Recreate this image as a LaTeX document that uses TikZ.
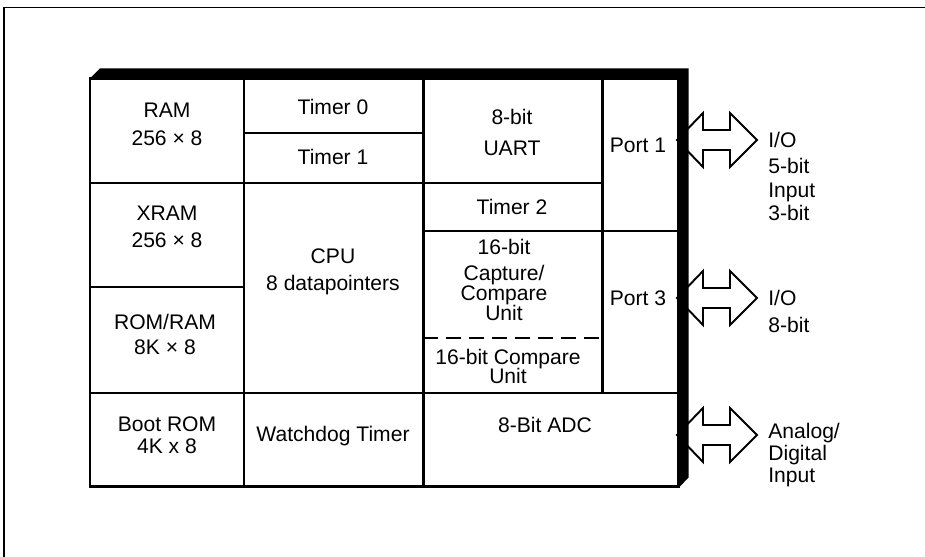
\documentclass[tikz,border=0pt]{standalone}
\usepackage{fontspec}
\setmainfont{Liberation Sans}
\begin{document}
\begin{tikzpicture}[x=0.02cm,y=-0.02cm,line join=miter,
                    font=\fontsize{12}{14}\selectfont,
                    cell/.style={align=center,inner sep=0pt},
                    pinlabel/.style={align=left,anchor=west,inner sep=0pt},
                    gridline/.style={line width=1.7pt},
                    busarrow/.style={draw,fill=white,line width=1.1pt}]
  \useasboundingbox (0,0) rectangle (925,557);

  % Page frame, open at right and bottom.
  \draw[line width=0.6pt] (4,557) -- (4,7.3) -- (925,7.3);

  % Outline bus arrows, drawn before the shadow band.
  \foreach \yc in {140,298,435}
    \draw[busarrow] (677,\yc) -- (703,\yc-27) -- (703,\yc-10)
      -- (730,\yc-10) -- (730,\yc-27) -- (757,\yc) -- (730,\yc+27)
      -- (730,\yc+10) -- (703,\yc+10) -- (703,\yc+27) -- cycle;

  % Shadow band on top and right of the block.
  \fill (89,79.5) -- (100,68.5) -- (688.5,68.5) -- (688.5,477.5)
    -- (678.5,488) -- (678.5,78.5) -- cycle;

  % Block outline and cell borders.
  \draw[gridline] (90,78.5) rectangle (678.5,486.5);
  \draw[gridline] (244,78.5) -- (244,486.5);
  \draw[gridline] (423,78.5) -- (423,486.5);
  \draw[gridline] (602,78.5) -- (602,393);
  \draw[gridline] (244,133) -- (423,133);
  \draw[gridline] (90,183) -- (602,183);
  \draw[gridline] (423,231) -- (678.5,231);
  \draw[gridline] (90,287) -- (244,287);
  \draw[gridline] (90,393) -- (678.5,393);
  \draw[line width=1.7pt,dash pattern=on 0.3cm off 0.16cm]
    (423,338) -- (602,338);

  % Cell texts.
  \node[cell] (ram) at (167,124) {RAM\\[1.9pt]256 × 8};
  \node[cell] (timer0) at (333,107) {Timer 0};
  \node[cell] (timer1) at (333,157) {Timer 1};
  \node[cell] (uart) at (512,132.5) {8-bit\\[3.6pt]UART};
  \node[cell] (port1) at (638,145) {Port 1};
  \node[cell] (xram) at (167,226.5) {XRAM\\[1.4pt]256 × 8};
  \node[cell] (cpu) at (333,271.5) {CPU\\[1.4pt]8 datapointers};
  \node[cell] (timer2) at (512,207) {Timer 2};
  \node[cell] (capcom) at (504,280)
    {16-bit\\[0.8pt]Capture/\\[-2.6pt]Compare\\[-2.6pt]Unit};
  \node[cell] (compare) at (508,366.5) {16-bit Compare\\[-3.2pt]Unit};
  \node[cell] (port3) at (638,298) {Port 3};
  \node[cell] (romram) at (165,334.5) {ROM/RAM\\[0.2pt]8K × 8};
  \node[cell] (bootrom) at (167,435) {Boot ROM\\[-1.5pt]4K x 8};
  \node[cell] (watchdog) at (333,436) {Watchdog Timer};
  \node[cell] (adc) at (545,425) {8-Bit ADC};

  % Pin labels beside the arrows.
  \node[pinlabel] (io1) at (768,176.5)
    {I/O\\[0.8pt]5-bit\\[-0.3pt]Input\\[-1.2pt]3-bit};
  \node[pinlabel] (io3) at (768,311.5) {I/O\\[1.4pt]8-bit};
  \node[pinlabel] (analog) at (768,455)
    {Analog/\\[-1.5pt]Digital\\[-1.5pt]Input};
\end{tikzpicture}
\end{document}
